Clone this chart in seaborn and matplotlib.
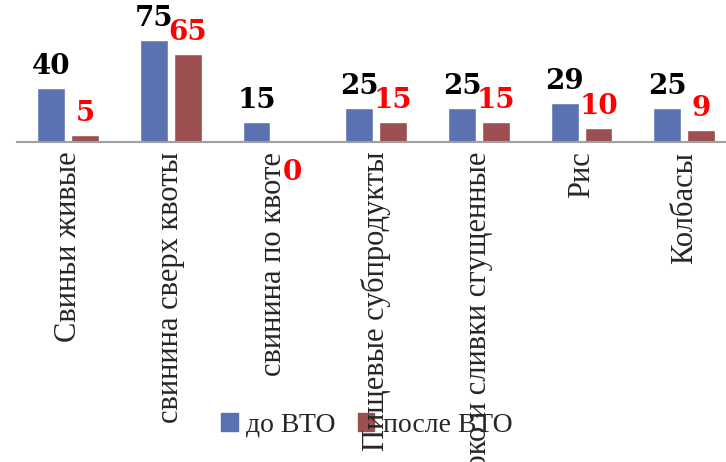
import pandas as pd
import seaborn as sns
import matplotlib.pyplot as plt

categories = ["Свиньи живые", "свинина сверх квоты", "свинина по квоте",
              "Пищевые субпродукты", "Молоко и сливки сгущенные", "Рис", "Колбасы"]
before_wto = [40, 75, 15, 25, 25, 29, 25]
after_wto = [5, 65, 0, 15, 15, 10, 9]
series = ["до ВТО", "после ВТО"]
colors = ["#5B72B2", "#9B4F51"]
label_colors = ["black", "red"]

df = pd.DataFrame({
    "cat": categories * 2,
    "val": before_wto + after_wto,
    "series": [series[0]] * len(categories) + [series[1]] * len(categories),
})

sns.set_style("white")
plt.rcParams["font.family"] = ["Liberation Serif", "DejaVu Serif"]

fig = plt.figure(figsize=(7.26, 4.62), dpi=100)
ax = fig.add_axes([16.7 / 726, 320 / 462, 719 / 726, 142 / 462])
ax.patch.set_facecolor("none")

sns.barplot(data=df, x="cat", y="val", hue="series", order=categories,
            hue_order=series, palette=colors, width=0.66, gap=0.18,
            saturation=1, ax=ax, legend=False)

ax.set_xlim(-0.5, len(categories) - 0.5)
ax.set_ylim(0, 104.4)
ax.set_xlabel("")
ax.set_ylabel("")
ax.set_yticks([])
for s in ["top", "left", "right"]:
    ax.spines[s].set_visible(False)
ax.spines["bottom"].set_color("#A0A0A0")
ax.spines["bottom"].set_linewidth(1.5)
ax.tick_params(axis="x", length=0, pad=7)
ax.set_xticks(range(len(categories)))
ax.set_xticklabels(categories, rotation=90, va="top", ha="center", fontsize=22)

# подписи значений
for cont, col in zip(ax.containers, label_colors):
    for bar in cont.patches:
        h = bar.get_height()
        x = bar.get_x() + bar.get_width() / 2
        if h > 0:
            ax.annotate(f"{h:.0f}", (x, h), xytext=(0, 8), textcoords="offset pixels",
                        ha="center", va="bottom", color=col, fontsize=20,
                        fontweight="bold", family="DejaVu Serif", annotation_clip=False)
        else:
            ax.annotate(f"{h:.0f}", (x, h), xytext=(2, -30), textcoords="offset pixels",
                        ha="center", va="center", color=col, fontsize=20,
                        fontweight="bold", family="DejaVu Serif", annotation_clip=False)

handles = [plt.Rectangle((0, 0), 1, 1, color=c) for c in colors]
leg = fig.legend(handles, series, loc="center", bbox_to_anchor=(0.505, 0.08), ncol=2,
                 frameon=False, fontsize=20, handlelength=0.6, handleheight=0.6,
                 handletextpad=0.3, columnspacing=0.8)
leg.set_zorder(-1)

fig.savefig("out.png", dpi=100)
